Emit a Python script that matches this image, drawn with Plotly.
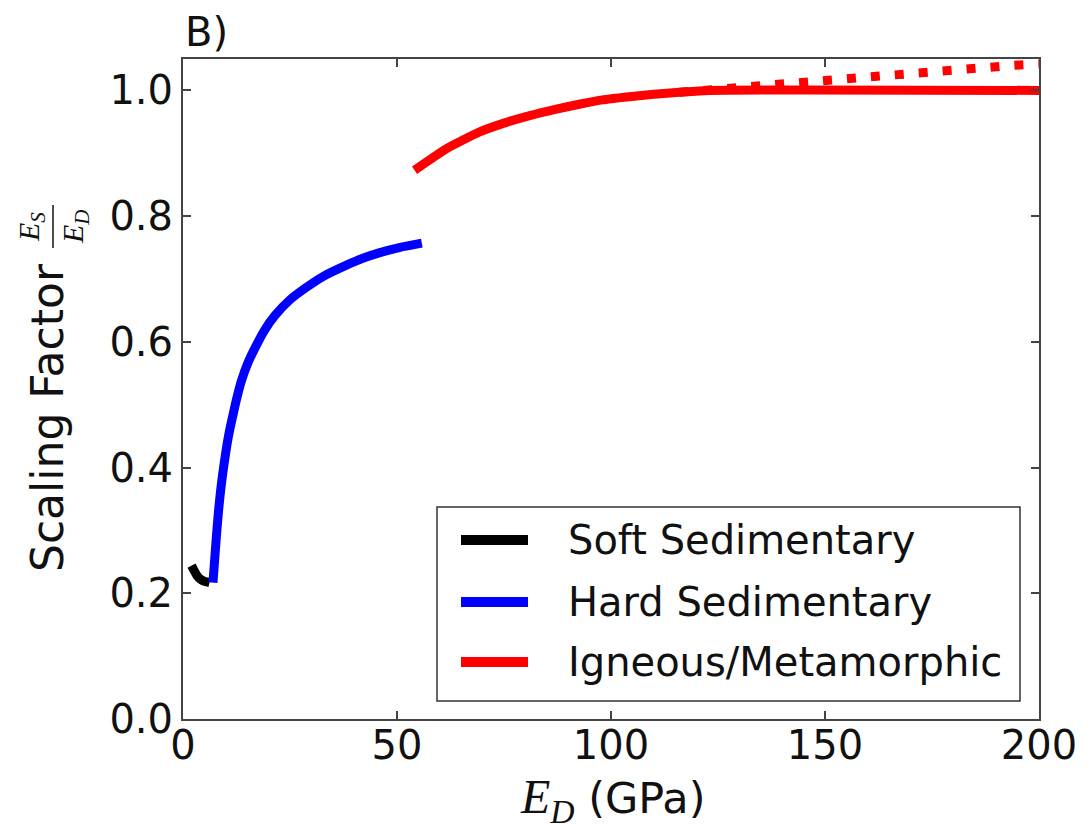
import plotly.graph_objects as go

# ---- data ----
soft_x = [2.0, 2.6, 3.2, 3.8, 4.4, 5.0, 5.6, 6.2]
soft_y = [0.244, 0.236, 0.229, 0.224, 0.221, 0.219, 0.218, 0.217]

hard_x = [7.0, 7.3, 7.8, 8.25, 8.9, 9.6, 10.6, 11.75, 12.7, 13.7, 15.2, 16.8, 19.0, 21.5, 25.0, 28.9, 33.0, 38.2, 42.0, 46.0, 50.5, 55.8]
hard_y = [0.217, 0.244, 0.290, 0.327, 0.370, 0.406, 0.449, 0.486, 0.514, 0.539, 0.567, 0.590, 0.618, 0.642, 0.667, 0.687, 0.705, 0.722, 0.733, 0.742, 0.750, 0.757]

ign_x = [54.1, 61.5, 69.3, 75.0, 81.0, 87.0, 92.6, 98.0, 104.3, 110.0, 116.0, 123.0, 200.0]
ign_y = [0.873, 0.907, 0.934, 0.948, 0.960, 0.970, 0.978, 0.985, 0.990, 0.994, 0.997, 1.000, 1.000]

ign_ext_x = [116.0, 123.0, 131.0, 137.0, 143.0, 149.0, 160.0, 171.0, 182.0, 194.0, 200.0]
ign_ext_y = [0.997, 1.001, 1.006, 1.010, 1.013, 1.017, 1.024, 1.030, 1.035, 1.040, 1.042]

x_ticks = [0, 50, 100, 150, 200]
y_ticks = [0.0, 0.2, 0.4, 0.6, 0.8, 1.0]

series_names = ["Soft Sedimentary", "Hard Sedimentary", "Igneous/Metamorphic"]
series_colors = ["#000000", "#0000ff", "#ff0000"]

# ---- layout geometry (target pixels in the 1090x829 window) ----
O = 8  # page body margin
W, H = 1090 - O, 829 - O
L, R, T, B = 183, 1039, 59, 719
PW, PH = R - L, B - T


def px(p):
    return (p - L) / PW


def py(p):
    return (B - p) / PH


SANS = "DejaVu Sans"
SERIF = "Liberation Serif"
LW = 9

fig = go.Figure()
fig.add_trace(go.Scatter(x=soft_x, y=soft_y, mode="lines", name=series_names[0],
                         line=dict(color=series_colors[0], width=LW, shape="spline", smoothing=0.8),
                         showlegend=False))
fig.add_trace(go.Scatter(x=hard_x, y=hard_y, mode="lines", name=series_names[1],
                         line=dict(color=series_colors[1], width=LW, shape="spline", smoothing=0.8),
                         showlegend=False))
fig.add_trace(go.Scatter(x=ign_x, y=ign_y, mode="lines", name=series_names[2],
                         line=dict(color=series_colors[2], width=LW, shape="spline", smoothing=0.5),
                         showlegend=False))
fig.add_trace(go.Scatter(x=ign_ext_x, y=ign_ext_y, mode="lines", name=series_names[2] + " (extended)",
                         line=dict(color=series_colors[2], width=LW, dash="9px,15px"),
                         showlegend=False))

axis_common = dict(
    showline=True, linecolor="#444", linewidth=2, mirror="ticks",
    ticks="inside", ticklen=8, tickwidth=1.5, tickcolor="#444",
    showgrid=False, zeroline=False,
    tickfont=dict(family=SANS, size=40, color="#111"),
)

fig.update_layout(
    width=W, height=H,
    margin=dict(l=L - O, r=(1090 - R), t=T - O, b=(829 - B), autoexpand=False),
    paper_bgcolor="white", plot_bgcolor="white",
    xaxis=dict(range=[0, 200], tickvals=x_ticks, ticktext=[str(v) for v in x_ticks],
               ticklabelstandoff=-10, **axis_common),
    yaxis=dict(range=[0, 1.05], tickvals=y_ticks, ticktext=[f"{v:.1f}" for v in y_ticks],
               ticklabelstandoff=0, **axis_common),
    showlegend=False,
)

annotations = []
shapes = []

# panel label
annotations.append(dict(text="B)", xref="paper", yref="paper", x=px(183), y=py(32),
                        xanchor="left", yanchor="middle", showarrow=False,
                        font=dict(family=SANS, size=40, color="#111")))
# x title
annotations.append(dict(text='<span style="font-family:Liberation Serif;font-size:48px"><i>E<sub>D</sub></i></span> (GPa)',
                        xref="paper", yref="paper", x=px(612), y=py(800),
                        xanchor="center", yanchor="middle", showarrow=False,
                        font=dict(family=SANS, size=43, color="#111")))
# y title
annotations.append(dict(text="Scaling Factor", xref="paper", yref="paper", x=px(47), y=py(418),
                        xanchor="center", yanchor="middle", textangle=-90, showarrow=False,
                        font=dict(family=SANS, size=44, color="#111")))
annotations.append(dict(text="<i>E<sub>S</sub></i>", xref="paper", yref="paper", x=px(31), y=py(227),
                        xanchor="center", yanchor="middle", textangle=-90, showarrow=False,
                        font=dict(family=SERIF, size=30, color="#111")))
annotations.append(dict(text="<i>E<sub>D</sub></i>", xref="paper", yref="paper", x=px(75), y=py(227),
                        xanchor="center", yanchor="middle", textangle=-90, showarrow=False,
                        font=dict(family=SERIF, size=30, color="#111")))
shapes.append(dict(type="line", xref="paper", yref="paper", x0=px(53), x1=px(53), y0=py(205), y1=py(248),
                   line=dict(color="#111", width=1.5)))

# legend (drawn box, sample lines, labels)
shapes.append(dict(type="rect", xref="paper", yref="paper", x0=px(437), x1=px(1020), y0=py(701), y1=py(507),
                   line=dict(color="#333", width=1.5), fillcolor="white", layer="above"))
for name, color, yy in zip(series_names, series_colors, [540, 602, 662]):
    shapes.append(dict(type="line", xref="paper", yref="paper", x0=px(461), x1=px(528), y0=py(yy), y1=py(yy),
                       line=dict(color=color, width=10), layer="above"))
    annotations.append(dict(text=name, xref="paper", yref="paper", x=px(566), y=py(yy),
                            xanchor="left", yanchor="middle", showarrow=False,
                            font=dict(family=SANS, size=40, color="#111")))

fig.update_layout(annotations=annotations, shapes=shapes)
fig.write_html("out.html")
